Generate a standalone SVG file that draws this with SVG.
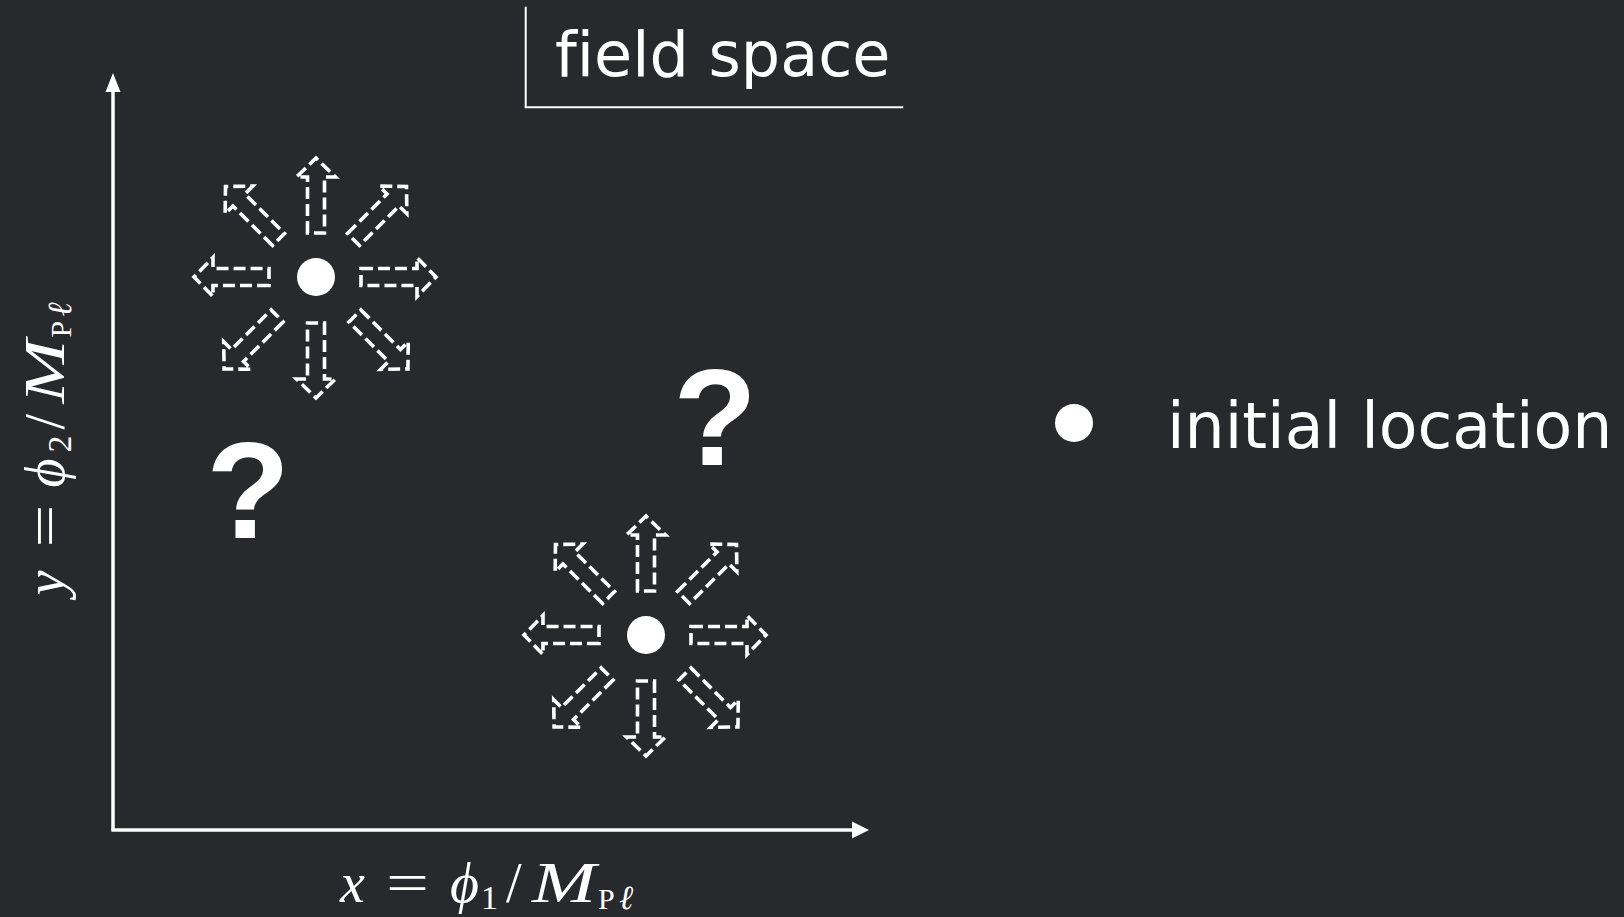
<svg xmlns="http://www.w3.org/2000/svg" xmlns:xlink="http://www.w3.org/1999/xlink" width="1624" height="917" viewBox="0 0 1624 917">
<style>
.bg{fill:#28292c}
.ax{stroke:#ffffff;stroke-width:3.5;fill:none}
.ah{fill:#ffffff}
.dash{fill:none;stroke:#ffffff;stroke-width:3.6;stroke-dasharray:12 5;stroke-linejoin:miter}
.dot{fill:#ffffff}
.sans{font-family:"DejaVu Sans","Verdana",sans-serif;fill:#ffffff;font-variant-ligatures:none;font-feature-settings:"liga" 0}
.q{font-family:"Liberation Sans",Arial,sans-serif;font-weight:bold;font-size:137px;fill:#ffffff;text-anchor:middle}
.mi{font-family:"Liberation Serif","Times New Roman",serif;font-style:italic;fill:#ffffff}
.mr{font-family:"Liberation Serif","Times New Roman",serif;fill:#ffffff}
</style>
<defs>
<path id="arr" class="dash" d="M2,-8.5 H58 V-19.5 L77,0 L58,19.5 V8.5 H2 Z"/>
</defs>
<rect class="bg" x="0" y="0" width="1624" height="917"/>

<g id="title">
<line x1="525.7" y1="6.7" x2="525.7" y2="107.3" stroke="#ffffff" stroke-width="2"/>
<line x1="524.7" y1="107.3" x2="903.3" y2="107.3" stroke="#ffffff" stroke-width="2"/>
<text class="sans" x="555" y="75.5" font-size="62">field space</text>
</g>

<g id="connectors">
<line class="ax" x1="113" y1="830" x2="113" y2="90"/>
<polygon class="ah" points="113,73 105.5,92 120.5,92"/>
<line class="ax" x1="111.3" y1="830" x2="855" y2="830"/>
<polygon class="ah" points="869,830 852,821.5 852,838.5"/>
</g>

<g id="cluster1">
<circle class="dot" cx="316" cy="277" r="19"/>
<use xlink:href="#arr" transform="translate(316,277) rotate(0) translate(43,0)"/>
<use xlink:href="#arr" transform="translate(316,277) rotate(-90) translate(42,0)"/>
<use xlink:href="#arr" transform="translate(316,277) rotate(180) translate(45,0)"/>
<use xlink:href="#arr" transform="translate(316,277) rotate(90) translate(44,0)"/>
<use xlink:href="#arr" transform="translate(316,277) rotate(-45) translate(51,0)"/>
<use xlink:href="#arr" transform="translate(316,277) rotate(-135) translate(51,0)"/>
<use xlink:href="#arr" transform="translate(316,277) rotate(135) translate(53,0)"/>
<use xlink:href="#arr" transform="translate(316,277) rotate(45) translate(53,0)"/>
</g>

<g id="cluster2">
<circle class="dot" cx="646" cy="635" r="19"/>
<use xlink:href="#arr" transform="translate(646,635) rotate(0) translate(43,0)"/>
<use xlink:href="#arr" transform="translate(646,635) rotate(-90) translate(42,0)"/>
<use xlink:href="#arr" transform="translate(646,635) rotate(180) translate(45,0)"/>
<use xlink:href="#arr" transform="translate(646,635) rotate(90) translate(44,0)"/>
<use xlink:href="#arr" transform="translate(646,635) rotate(-45) translate(51,0)"/>
<use xlink:href="#arr" transform="translate(646,635) rotate(-135) translate(51,0)"/>
<use xlink:href="#arr" transform="translate(646,635) rotate(135) translate(53,0)"/>
<use xlink:href="#arr" transform="translate(646,635) rotate(45) translate(53,0)"/>
</g>

<g id="q1"><text class="q" x="248" y="538">?</text></g>
<g id="q2"><text class="q" x="715" y="465">?</text></g>

<g id="legend">
<circle class="dot" cx="1074" cy="423" r="19"/>
<text class="sans" x="1167" y="447.5" font-size="63.3">initial location</text>
</g>

<g id="xlabel" transform="translate(340,902)">
<text class="mi" x="0" y="0" font-size="56">x</text>
<text class="mr" x="46" y="0" font-size="56" textLength="43" lengthAdjust="spacingAndGlyphs">=</text>
<text class="mi" x="110" y="0" font-size="56">ϕ</text>
<text class="mr" x="141" y="7" font-size="34">1</text>
<text class="mr" x="166" y="0" font-size="56">/</text>
<text class="mi" x="192" y="0" font-size="58" textLength="64" lengthAdjust="spacingAndGlyphs">M</text>
<text class="mr" x="258" y="7" font-size="30">P</text>
<text class="mi" x="279" y="7" font-size="34">ℓ</text>
</g>

<g id="ylabel" transform="translate(64,595.5) rotate(-90)">
<text class="mi" x="0" y="0" font-size="56">y</text>
<text class="mr" x="48" y="0" font-size="56" textLength="43" lengthAdjust="spacingAndGlyphs">=</text>
<text class="mi" x="108" y="0" font-size="56">ϕ</text>
<text class="mr" x="143" y="7" font-size="34">2</text>
<text class="mr" x="166" y="0" font-size="56">/</text>
<text class="mi" x="192" y="0" font-size="58" textLength="64" lengthAdjust="spacingAndGlyphs">M</text>
<text class="mr" x="258" y="7" font-size="30">P</text>
<text class="mi" x="279" y="7" font-size="34">ℓ</text>
</g>
</svg>
